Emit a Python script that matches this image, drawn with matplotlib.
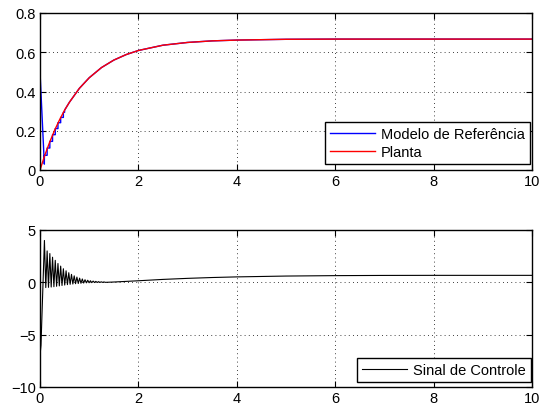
import numpy as np
import matplotlib.pyplot as plt

plt.rcParams['font.family'] = ['Liberation Sans', 'DejaVu Sans']
plt.rcParams['font.size'] = 10.5

# output of the plant (smooth response), sampled
t_out = [0, 0.1, 0.2, 0.3, 0.4, 0.5, 0.6, 0.8, 1.0, 1.25, 1.5, 1.75, 2.0,
         2.5, 3.0, 3.5, 4.0, 5.0, 6.0, 7.0, 8.0, 10.0]
y_planta = [0, 0.077, 0.144, 0.204, 0.257, 0.305, 0.346, 0.416, 0.470, 0.522,
            0.560, 0.588, 0.609, 0.636, 0.650, 0.658, 0.662, 0.666, 0.667,
            0.667, 0.667, 0.667]

# reference model: initial drop, then held steps until it settles
t_ref_start = [0, 0.088]
y_ref_start = [0.5, 0.03]
t_ref_steps = [0.09, 0.145, 0.2, 0.255, 0.31, 0.365, 0.42, 0.475]
y_ref_steps = [0.075, 0.112, 0.146, 0.180, 0.211, 0.241, 0.268, 0.294]
t_ref_tail = [0.5, 0.6, 0.8, 1.0, 1.25, 1.5, 1.75, 2.0, 2.5, 3.0, 3.5, 4.0,
              5.0, 6.0, 7.0, 8.0, 10.0]
y_ref_tail = [0.305, 0.346, 0.416, 0.470, 0.522, 0.560, 0.588, 0.609, 0.636,
              0.650, 0.658, 0.662, 0.666, 0.667, 0.667, 0.667, 0.667]

# control signal: start, oscillation peaks/troughs, slow tail
t_u_start = [0, 0.02]
u_start = [-7.0, -6.0]
t_peaks = [0.09, 0.145, 0.2, 0.255, 0.31, 0.365, 0.42, 0.475, 0.53, 0.585,
           0.64, 0.695, 0.75, 0.805, 0.86, 0.915, 0.97, 1.025, 1.08, 1.135,
           1.19, 1.245, 1.3]
u_peaks = [4.0, 3.0, 2.75, 2.4, 2.1, 1.8, 1.55, 1.3, 1.1, 0.92, 0.76, 0.62,
           0.5, 0.4, 0.32, 0.25, 0.2, 0.15, 0.12, 0.09, 0.07, 0.05, 0.04]
u_troughs = [-0.5, -0.48, -0.45, -0.42, -0.38, -0.34, -0.3, -0.26, -0.22,
             -0.19, -0.16, -0.13, -0.11, -0.09, -0.07, -0.05, -0.04, -0.03,
             -0.02, -0.015, -0.01, -0.005, 0.0]
t_u_tail = [1.5, 2.0, 2.5, 3.0, 3.5, 4.0, 5.0, 6.0, 7.0, 8.0, 10.0]
u_tail = [0.03, 0.15, 0.28, 0.38, 0.46, 0.52, 0.6, 0.64, 0.66, 0.667, 0.667]

xticks = [0, 2, 4, 6, 8, 10]

# build step shape for the reference model
ts = np.array(t_ref_steps)
ys = np.array(y_ref_steps)
t_next = np.append(ts[1:], t_ref_tail[0])
t_stairs = np.column_stack([ts, t_next]).ravel()
y_stairs = np.column_stack([ys, ys]).ravel()
t_ref = np.concatenate([t_ref_start, t_stairs, t_ref_tail])
y_ref = np.concatenate([y_ref_start, y_stairs, y_ref_tail])

# interleave peaks and troughs of the control signal
tp = np.array(t_peaks)
half = (tp[1] - tp[0]) / 2
t_osc = np.column_stack([tp, tp + half]).ravel()
u_osc = np.column_stack([u_peaks, u_troughs]).ravel()
t_u = np.concatenate([t_u_start, t_osc, t_u_tail])
u = np.concatenate([u_start, u_osc, u_tail])

fig = plt.figure(figsize=(5.39, 4.10), dpi=100)
ax1 = fig.add_axes([40/539, 1 - 171/410, 492/539, 157/410])
ax2 = fig.add_axes([40/539, 1 - 388/410, 492/539, 157/410])

ax1.plot(t_ref, y_ref, color='blue', lw=1, label='Modelo de Referência')
ax1.plot(t_out, y_planta, color='red', lw=1, label='Planta')
ax1.set_ylim(0, 0.8)
ax1.set_yticks([0, 0.2, 0.4, 0.6, 0.8])
ax1.set_yticklabels(['0', '0.2', '0.4', '0.6', '0.8'])

ax2.plot(t_u, u, color='black', lw=0.8, label='Sinal de Controle')
ax2.set_ylim(-10, 5)
ax2.set_yticks([-10, -5, 0, 5])
ax2.set_yticklabels(['\u221210', '\u22125', '0', '5'])

anchors = [(1 - 2/492, 6/157), (1 - 1/492, 5/157)]
for ax, anchor in zip((ax1, ax2), anchors):
    ax.set_xlim(0, 10)
    ax.set_xticks(xticks)
    ax.set_xticklabels([str(v) for v in xticks])
    ax.grid(True, linestyle=(0, (1, 4)), color='black', lw=0.6)
    ax.tick_params(direction='in', top=True, right=True, length=4,
                   width=0.8, labelsize=10.5, pad=3)
    for s in ax.spines.values():
        s.set_linewidth(1)
    leg = ax.legend(loc='lower right', bbox_to_anchor=anchor,
                    fancybox=False, framealpha=1, edgecolor='black',
                    handlelength=3.1, borderpad=0.35, labelspacing=0.25,
                    handletextpad=0.4, borderaxespad=0, fontsize=10.5)
    leg.get_frame().set_linewidth(1)

fig.savefig('out.png', dpi=100)
